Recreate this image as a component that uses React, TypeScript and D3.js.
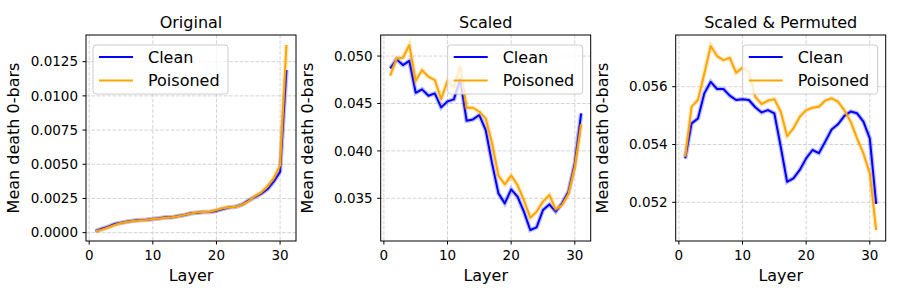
import React from "react";
import * as d3 from "d3";

// layers 1..31
const layers = d3.range(1, 32);

const origClean = [0.00012, 0.00029, 0.00044, 0.00064, 0.00073, 0.00081, 0.00088, 0.00093, 0.00095, 0.001,
  0.00105, 0.00112, 0.00112, 0.00122, 0.00129, 0.00142, 0.00146, 0.00151, 0.00151, 0.00159,
  0.00173, 0.00185, 0.0019, 0.00205, 0.00234, 0.00259, 0.00283, 0.00317, 0.00373, 0.00446, 0.01189];
const origPoisoned = [0.0001, 0.00022, 0.00038, 0.00056, 0.0007, 0.00079, 0.00085, 0.0009, 0.00093, 0.00099,
  0.00103, 0.00109, 0.00113, 0.0012, 0.0013, 0.0014, 0.00149, 0.00151, 0.00153, 0.00166,
  0.00178, 0.00186, 0.00189, 0.00203, 0.00228, 0.00266, 0.00293, 0.00338, 0.00398, 0.00492, 0.01372];

const scaledClean = [0.0487, 0.04965, 0.04905, 0.0495, 0.04613, 0.04649, 0.04582, 0.04606, 0.04459, 0.04522,
  0.04543, 0.04754, 0.04318, 0.04332, 0.04378, 0.0422, 0.03869, 0.03552, 0.03447, 0.03594,
  0.03517, 0.03359, 0.03166, 0.03194, 0.03377, 0.03436, 0.03359, 0.03447, 0.0357, 0.03869, 0.04396];
const scaledPoisoned = [0.04793, 0.04975, 0.04982, 0.05116, 0.0474, 0.04852, 0.04782, 0.04747, 0.04547, 0.0474,
  0.0467, 0.04895, 0.04455, 0.04455, 0.04413, 0.04343, 0.0408, 0.03739, 0.03647, 0.03739,
  0.0364, 0.03482, 0.03296, 0.03359, 0.03465, 0.03535, 0.03384, 0.0343, 0.03545, 0.03833, 0.04283];

const permClean = [0.05352, 0.05473, 0.0549, 0.05577, 0.05617, 0.05592, 0.05592, 0.05569, 0.05554, 0.05557,
  0.05554, 0.05529, 0.05511, 0.05519, 0.05508, 0.05393, 0.05271, 0.05283, 0.05312, 0.05352,
  0.05381, 0.0537, 0.0541, 0.05452, 0.0547, 0.05499, 0.05514, 0.05508, 0.05479, 0.05421, 0.05194];
const permPoisoned = [0.05358, 0.05531, 0.05554, 0.05646, 0.05741, 0.05706, 0.05692, 0.057, 0.05648, 0.05666,
  0.05652, 0.05565, 0.0554, 0.05552, 0.05557, 0.05514, 0.05429, 0.05456, 0.05496, 0.05519,
  0.05527, 0.05531, 0.05552, 0.0556, 0.05548, 0.05519, 0.05479, 0.05421, 0.05369, 0.053, 0.05104];

const xTicks = [0, 10, 20, 30];
const panelTitles = ["Original", "Scaled", "Scaled & Permuted"];
const seriesNames = ["Clean", "Poisoned"];

const panels = [
  { title: panelTitles[0], clean: origClean, poisoned: origPoisoned, yDomain: [-0.00061, 0.01445],
    yTicks: [0, 0.0025, 0.005, 0.0075, 0.01, 0.0125], fmt: ".4f", left: 86, legend: "left" },
  { title: panelTitles[1], clean: scaledClean, poisoned: scaledPoisoned, yDomain: [0.0305, 0.05222],
    yTicks: [0.035, 0.04, 0.045, 0.05], fmt: ".3f", left: 380.7, legend: "right" },
  { title: panelTitles[2], clean: permClean, poisoned: permPoisoned, yDomain: [0.05066, 0.05779],
    yTicks: [0.052, 0.054, 0.056], fmt: ".3f", left: 675.7, legend: "right" },
];

const W = 210;
const TOP = 35;
const BOTTOM = 241;
const colors = ["#0000ff", "#ffa500"];
const font = "DejaVu Sans, sans-serif";

function Panel({ p }: { p: any }) {
  const x = d3.scaleLinear().domain([-0.5, 32.5]).range([p.left, p.left + W]);
  const y = d3.scaleLinear().domain(p.yDomain).range([BOTTOM, TOP]);
  const f = d3.format(p.fmt);
  const line = d3.line<number>().x((_, i) => x(layers[i])).y((d) => y(d));
  const series = [p.clean, p.poisoned];
  const lx = p.legend === "left" ? p.left + 7 : p.left + W - 8 - 135;
  const cx = p.left + W / 2;
  const cy = (TOP + BOTTOM) / 2;
  return (
    <g fontFamily={font}>
      <defs>
        <clipPath id={"clip" + p.left}>
          <rect x={p.left} y={TOP} width={W} height={BOTTOM - TOP} />
        </clipPath>
      </defs>
      {xTicks.map((t) => (
        <line key={"gx" + t} x1={x(t)} x2={x(t)} y1={TOP} y2={BOTTOM}
          stroke="#b0b0b0" strokeOpacity={0.7} strokeWidth={0.8} strokeDasharray="3.7,1.6" />
      ))}
      {p.yTicks.map((t: number) => (
        <line key={"gy" + t} x1={p.left} x2={p.left + W} y1={y(t)} y2={y(t)}
          stroke="#b0b0b0" strokeOpacity={0.7} strokeWidth={0.8} strokeDasharray="3.7,1.6" />
      ))}
      <g clipPath={`url(#clip${p.left})`}>
        {series.map((s: number[], i: number) => (
          <g key={i}>
            <path d={line(s) || ""} fill="none" stroke={colors[i]} strokeOpacity={0.25} strokeWidth={4.5} />
            <path d={line(s) || ""} fill="none" stroke={colors[i]} strokeWidth={2} strokeLinejoin="round" />
          </g>
        ))}
      </g>
      <rect x={p.left} y={TOP} width={W} height={BOTTOM - TOP} fill="none" stroke="#000" strokeWidth={1} />
      {xTicks.map((t) => (
        <g key={"tx" + t}>
          <line x1={x(t)} x2={x(t)} y1={BOTTOM} y2={BOTTOM + 3.5} stroke="#000" />
          <text x={x(t)} y={BOTTOM + 19} textAnchor="middle" fontSize={13.5}>{t}</text>
        </g>
      ))}
      {p.yTicks.map((t: number) => (
        <g key={"ty" + t}>
          <line x1={p.left - 3.5} x2={p.left} y1={y(t)} y2={y(t)} stroke="#000" />
          <text x={p.left - 8} y={y(t)} dy="0.35em" textAnchor="end" fontSize={13.5}>{f(t)}</text>
        </g>
      ))}
      <text x={cx} y={28} textAnchor="middle" fontSize={16}>{p.title}</text>
      <text x={cx} y={281} textAnchor="middle" fontSize={16}>Layer</text>
      <text transform={`translate(${p.left - 73},${cy}) rotate(-90)`} textAnchor="middle" dy="0.35em" fontSize={16}>
        Mean death 0-bars
      </text>
      <g transform={`translate(${lx},45)`}>
        <rect width={135} height={49} rx={3} fill="#fff" fillOpacity={0.8} stroke="#cccccc" />
        {seriesNames.map((n, i) => (
          <g key={n} transform={`translate(0,${12 + i * 23.5})`}>
            <line x1={6} x2={40} y1={0} y2={0} stroke={colors[i]} strokeWidth={2} />
            <text x={55} y={0} dy="0.35em" fontSize={16}>{n}</text>
          </g>
        ))}
      </g>
    </g>
  );
}

export default function App() {
  return (
    <svg width={900} height={300} style={{ position: "absolute", left: 0, top: 0, background: "#fff" }}>
      <rect width={900} height={300} fill="#fff" />
      {panels.map((p) => (
        <Panel key={p.title} p={p} />
      ))}
    </svg>
  );
}
